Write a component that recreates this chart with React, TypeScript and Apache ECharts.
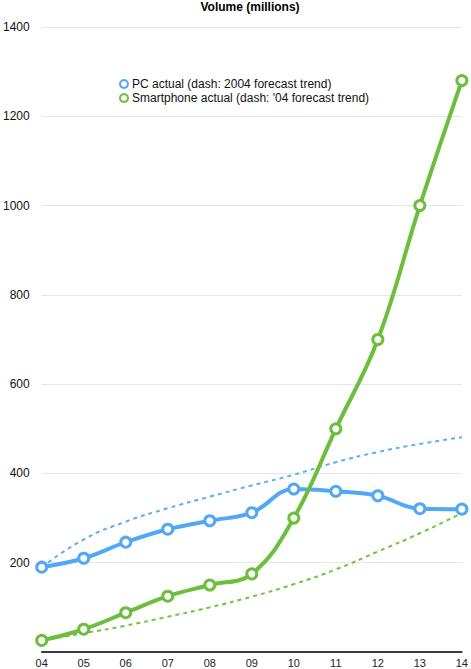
import React, { useEffect, useRef } from "react";
import * as echarts from "echarts";

const years = ["04", "05", "06", "07", "08", "09", "10", "11", "12", "13", "14"];
const pcActual = [190, 210, 246, 275, 294, 312, 365, 360, 350, 321, 320];
const pcForecast = [190, 252, 292, 322, 348, 373, 397, 425, 448, 466, 481];
const phoneActual = [26, 51, 88, 125, 150, 175, 300, 500, 700, 1000, 1280];
const phoneForecast = [26, 42, 59, 79, 100, 124, 152, 185, 225, 266, 311];
const yTicks = [0, 200, 400, 600, 800, 1000, 1200, 1400];

const PC = "#52a8f5";
const PC_DASH = "#5eb0e6";
const GREEN = "#6cbe3c";
const GREEN_DASH = "#74c23f";
const FONT = "Liberation Sans, Arial, sans-serif";

export default function App() {
  const ref = useRef<HTMLDivElement>(null);
  useEffect(() => {
    document.body.style.margin = "0";
    const chart = echarts.init(ref.current!, undefined, { renderer: "svg" });
    chart.setOption({
      animation: false,
      textStyle: { fontFamily: FONT },
      title: {
        text: "Volume (millions)",
        left: 250,
        textAlign: "center",
        top: 0,
        padding: [1, 0, 0, 0],
        textStyle: { fontSize: 12, fontWeight: "bold", color: "#000", fontFamily: FONT },
      },
      legend: {
        orient: "vertical",
        left: 114,
        top: 73,
        itemWidth: 8,
        itemHeight: 8,
        itemGap: 2,
        data: [
          { name: "PC actual (dash: 2004 forecast trend)", icon: "circle", itemStyle: { color: "#fff", borderColor: PC, borderWidth: 2 } },
          { name: "Smartphone actual (dash: '04 forecast trend)", icon: "circle", itemStyle: { color: "#fff", borderColor: GREEN, borderWidth: 2 } },
        ],
        textStyle: { fontSize: 12, color: "#111", fontFamily: FONT, padding: [0, 0, 0, -1] },
      },
      grid: { left: 39, right: 9, top: 27, bottom: 17, containLabel: false },
      xAxis: {
        type: "category",
        data: years,
        boundaryGap: false,
        axisLine: { show: true, lineStyle: { color: "#000", width: 1.5 } },
        axisTick: { show: false },
        axisLabel: { fontSize: 11, color: "#222", margin: 5, fontFamily: FONT },
        splitLine: { show: false },
      },
      yAxis: {
        type: "value",
        min: yTicks[0],
        max: yTicks[yTicks.length - 1],
        interval: 200,
        axisLine: { show: false },
        axisTick: { show: false },
        axisLabel: {
          fontSize: 12,
          color: "#111",
          margin: 12,
          showMinLabel: false,
          fontFamily: FONT,
          formatter: (v: number) => String(v),
        },
        splitLine: { lineStyle: { color: "#e6e6e6", width: 1 } },
      },
      series: [
        {
          name: "PC forecast",
          type: "line",
          data: pcForecast,
          smooth: true,
          symbol: "none",
          lineStyle: { color: PC_DASH, width: 2, type: [4, 4] },
          z: 1,
        },
        {
          name: "Smartphone forecast",
          type: "line",
          data: phoneForecast,
          smooth: true,
          symbol: "none",
          lineStyle: { color: GREEN_DASH, width: 2, type: [4, 4] },
          z: 1,
        },
        {
          name: "PC actual (dash: 2004 forecast trend)",
          type: "line",
          data: pcActual,
          smooth: 0.4,
          symbol: "circle",
          symbolSize: 10,
          itemStyle: { color: "#fff", borderColor: PC, borderWidth: 3 },
          lineStyle: { color: PC, width: 4 },
          z: 3,
        },
        {
          name: "Smartphone actual (dash: '04 forecast trend)",
          type: "line",
          data: phoneActual,
          smooth: 0.4,
          symbol: "circle",
          symbolSize: 10,
          itemStyle: { color: "#fff", borderColor: GREEN, borderWidth: 3 },
          lineStyle: { color: GREEN, width: 4 },
          z: 4,
        },
      ],
    });
    return () => chart.dispose();
  }, []);
  return <div ref={ref} style={{ width: 471, height: 669 }} />;
}
